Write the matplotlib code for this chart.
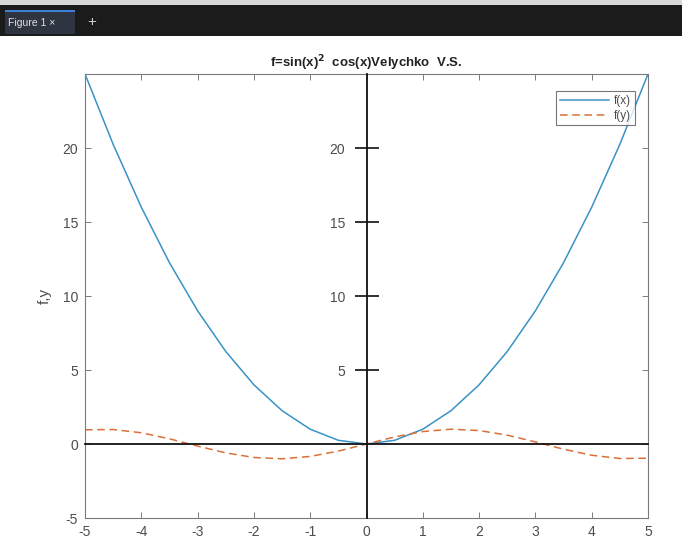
import matplotlib
matplotlib.use("Agg")
import matplotlib.pyplot as plt
from matplotlib.patches import Rectangle

plt.rcParams["font.family"] = ["Liberation Sans", "DejaVu Sans"]
plt.rcParams["axes.unicode_minus"] = False

x = [-5, -4.5, -4, -3.5, -3, -2.5, -2, -1.5, -1, -0.5, 0, 0.5, 1, 1.5, 2, 2.5, 3, 3.5, 4, 4.5, 5]
fx = [25, 20.25, 16, 12.25, 9, 6.25, 4, 2.25, 1, 0.25, 0, 0.25, 1, 2.25, 4, 6.25, 9, 12.25, 16, 20.25, 25]
fy = [0.96, 0.98, 0.76, 0.35, -0.14, -0.60, -0.91, -1.0, -0.84, -0.48, 0, 0.48, 0.84, 1.0, 0.91, 0.60, 0.14, -0.35, -0.76, -0.98, -0.96]
xticks = [-5, -4, -3, -2, -1, 0, 1, 2, 3, 4, 5]
yticks = [-5, 0, 5, 10, 15, 20]
center_yticks = [5, 10, 15, 20]
legend_labels = ["f(x)", "f(y)"]
title = r"f=sin(x)$^\mathbf{2}$  cos(x)Velychko  V.S."

W, H = 682, 543
fig = plt.figure(figsize=(W / 100, H / 100), dpi=100)
fig.patch.set_facecolor("white")

# dark tab bar
fig.patches.append(Rectangle((0, 1 - 36 / H), 1, 36 / H, transform=fig.transFigure,
                             facecolor="#1b1b1b", edgecolor="none", zorder=0))
fig.patches.append(Rectangle((0, 1 - 5 / H), 1, 5 / H, transform=fig.transFigure,
                             facecolor="#d8d8d8", edgecolor="none", zorder=1))
fig.patches.append(Rectangle((5 / W, 1 - 34 / H), 70 / W, 24 / H, transform=fig.transFigure,
                             facecolor="#2e3440", edgecolor="none", zorder=1))
fig.patches.append(Rectangle((5 / W, 1 - 12 / H), 70 / W, 2 / H, transform=fig.transFigure,
                             facecolor="#3d7fd6", edgecolor="none", zorder=2))
fig.text(8 / W, 1 - 23 / H, "Figure 1 \u00d7", color="#e0e0e0", fontsize=7.5, va="center", ha="left")
fig.text(92 / W, 1 - 22 / H, "+", color="#cfcfcf", fontsize=11, va="center", ha="center")

pos = [85 / W, 1 - 518 / H, (648 - 85) / W, (518 - 74) / H]
ax = fig.add_axes(pos)
blue = "#3a92c6"
orange = "#d9703a"
ax.plot(x, fx, color=blue, lw=1.1, label=legend_labels[0])
ax.plot(x, fy, color=orange, lw=1.1, ls=(0, (5, 3)), label=legend_labels[1])
ax.set_xlim(-5, 5)
ax.set_ylim(-5, 25)
ax.set_xticks(xticks)
ax.set_yticks(yticks)
gray = "#4d4d4d"
for s in ax.spines.values():
    s.set_color("#7a7a7a")
    s.set_linewidth(0.8)
ax.tick_params(direction="in", length=4, width=0.7, colors="#7a7a7a", labelcolor=gray,
               labelsize=10, top=True, right=True, pad=5)
ax.set_ylabel("f,y", color=gray, fontsize=11, labelpad=8)
ax.set_title(title, fontsize=9.5, fontweight="bold", color="#222222", pad=5)
leg = ax.legend(loc="upper right", fontsize=8.5, frameon=True, fancybox=False,
                edgecolor="#555555", handlelength=4.2, borderpad=0.3, labelspacing=0.25,
                handletextpad=0.4, borderaxespad=0.9, bbox_to_anchor=(0.995, 0.985))
leg.get_frame().set_linewidth(0.8)
for t in leg.get_texts():
    t.set_color(gray)

# center axes through origin
ax2 = fig.add_axes(pos)
ax2.set_xlim(-5, 5)
ax2.set_ylim(-5, 25)
ax2.patch.set_visible(False)
ax2.spines["top"].set_visible(False)
ax2.spines["right"].set_visible(False)
ax2.spines["left"].set_position(("data", 0))
ax2.spines["bottom"].set_position(("data", 0))
for k in ("left", "bottom"):
    ax2.spines[k].set_color("#111111")
    ax2.spines[k].set_linewidth(1.3)
ax2.xaxis.set_visible(False)
ax2.yaxis.set_ticks_position("left")
ax2.set_yticks(center_yticks)
ax2.tick_params(axis="y", direction="inout", length=17, width=1.3, color="#222222",
                labelcolor=gray, labelsize=10, pad=7)

fig.savefig("out.png", dpi=100)
